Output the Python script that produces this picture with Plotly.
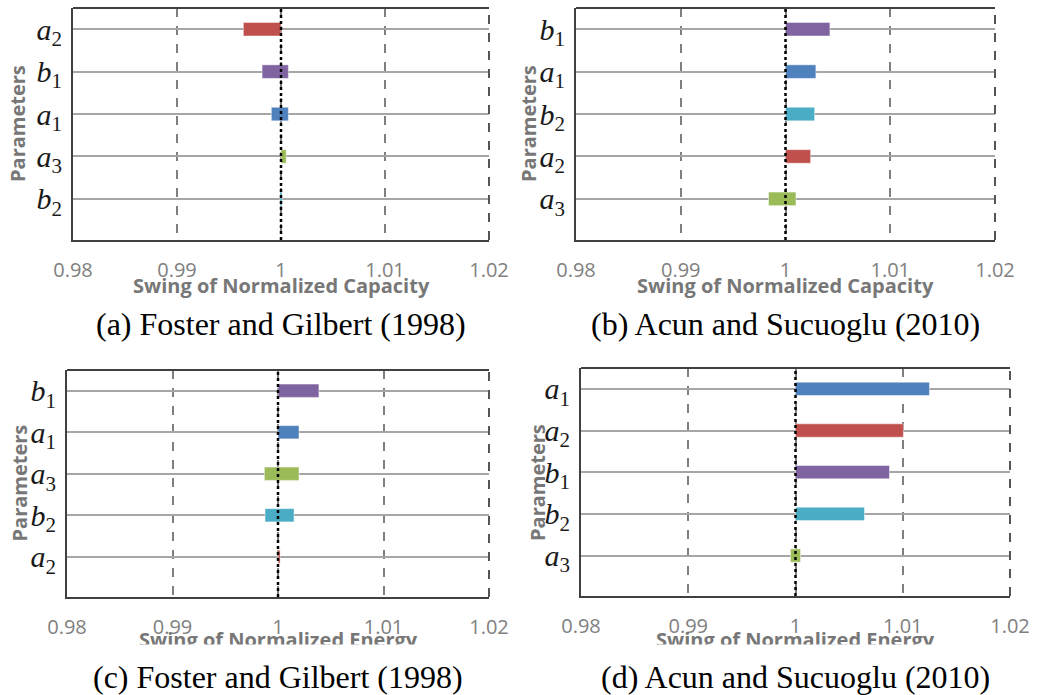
import plotly.graph_objects as go

W, H = 1038, 695

# ---- data: swing (low/high) of each parameter, listed top to bottom ----
params_a = ["a2", "b1", "a1", "a3", "b2"]
low_a = [0.99638, 0.99818, 0.99907, 1.00000, 0.99990]
high_a = [1.00000, 1.00071, 1.00071, 1.00050, 1.00010]

params_b = ["b1", "a1", "b2", "a2", "a3"]
low_b = [1.00000, 1.00000, 1.00000, 1.00000, 0.99838]
high_b = [1.00424, 1.00290, 1.00278, 1.00240, 1.00100]

params_c = ["b1", "a1", "a3", "b2", "a2"]
low_c = [1.00000, 1.00000, 0.99871, 0.99877, 1.00000]
high_c = [1.00388, 1.00199, 1.00199, 1.00152, 1.00020]

params_d = ["a1", "a2", "b1", "b2", "a3"]
low_d = [1.00000, 1.00000, 1.00000, 1.00000, 0.99953]
high_d = [1.01249, 1.01006, 1.00876, 1.00643, 1.00047]

x_ticks = [0.98, 0.99, 1.00, 1.01, 1.02]
x_tick_text = ["0.98", "0.99", "1", "1.01", "1.02"]

captions = ["(a) Foster and Gilbert (1998)", "(b) Acun and Sucuoglu (2010)",
            "(c) Foster and Gilbert (1998)", "(d) Acun and Sucuoglu (2010)"]
x_titles = ["Swing of Normalized Capacity", "Swing of Normalized Capacity",
            "Swing of Normalized Energy", "Swing of Normalized Energy"]
y_title = "Parameters"

colors = {"a1": "#4F81BD", "a2": "#C0504D", "a3": "#9BBB59",
          "b1": "#8064A2", "b2": "#4BACC6"}


def math_label(p):
    return f"<i>{p[0]}</i><sub>{p[1]}</sub>"


# ---- layout geometry (pixels) ----
panels = [
    dict(params=params_a, low=low_a, high=high_a, box=(73, 489, 8, 240), ylab_x=18,
         title_dy=45, cap_y=324, mask_top=None),
    dict(params=params_b, low=low_b, high=high_b, box=(576, 995, 8, 240), ylab_x=529,
         title_dy=45, cap_y=324, mask_top=None),
    dict(params=params_c, low=low_c, high=high_c, box=(67, 489, 370, 597), ylab_x=19,
         title_dy=42, cap_y=677, mask_top=644),
    dict(params=params_d, low=low_d, high=high_d, box=(581, 1010, 368, 596), ylab_x=538,
         title_dy=43, cap_y=677, mask_top=644),
]


def px_x(x):
    return x / W


def px_y(y):
    return 1 - y / H


fig = go.Figure()
shapes = []
annotations = []
tick_font = dict(family="Open Sans", size=20, color="#808080")
title_font = dict(family="Open Sans", size=20, color="#777777")

for i, p in enumerate(panels):
    n = "" if i == 0 else str(i + 1)
    xa, ya = "x" + n, "y" + n
    x0, x1, y0, y1 = p["box"]

    for prm, lo, hi in zip(p["params"], p["low"], p["high"]):
        fig.add_trace(go.Bar(
            orientation="h", y=[prm], x=[hi - lo], base=[lo], width=0.32,
            marker=dict(color=colors[prm], line=dict(color="rgba(255,255,255,0.45)", width=1)),
            xaxis=xa, yaxis=ya, showlegend=False,
        ))

    fig.layout["xaxis" + n] = dict(
        domain=[px_x(x0), px_x(x1)], anchor=ya, range=[0.98, 1.02], automargin=False,
        tickvals=x_ticks, ticktext=x_tick_text, tickfont=tick_font,
        ticklabelstandoff=11, ticks="",
        showgrid=True, gridcolor="#7f7f7f", gridwidth=2, griddash="dash",
        showline=True, linecolor="#404040", linewidth=2, zeroline=False,
    )
    fig.layout["yaxis" + n] = dict(
        domain=[px_y(y1), px_y(y0)], anchor=xa, automargin=False,
        type="category", categoryorder="array", categoryarray=p["params"],
        range=[4.97, -0.5],
        tickvals=p["params"], ticktext=[math_label(q) for q in p["params"]],
        tickfont=dict(family="Liberation Serif", size=30, color="#1a1a1a"),
        ticklabelstandoff=3, ticks="",
        showgrid=True, gridcolor="#a6a6a6", gridwidth=1.5,
        showline=True, linecolor="#404040", linewidth=2, zeroline=False,
    )

    # top border and dashed right border
    shapes.append(dict(type="line", xref="paper", yref="paper",
                       x0=px_x(x0), x1=px_x(x1), y0=px_y(y0), y1=px_y(y0),
                       line=dict(color="#404040", width=2), layer="above"))
    shapes.append(dict(type="line", xref="paper", yref="paper",
                       x0=px_x(x1), x1=px_x(x1), y0=px_y(y1), y1=px_y(y0),
                       line=dict(color="#555555", width=2, dash="dash"), layer="above"))
    # dotted reference line at 1
    shapes.append(dict(type="line", xref=xa, yref=ya + " domain",
                       x0=1.0, x1=1.0, y0=0, y1=1,
                       line=dict(color="black", width=2.5, dash="dot"), layer="above"))

    xc = (x0 + x1) / 2
    annotations.append(dict(text=f"<b>{x_titles[i]}</b>", xref="paper", yref="paper",
                            x=px_x(xc), y=px_y(y1 + p["title_dy"]), xanchor="center",
                            yanchor="middle", showarrow=False, font=title_font))
    annotations.append(dict(text=f"<b>{y_title}</b>", xref="paper", yref="paper",
                            x=px_x(p["ylab_x"]), y=px_y((y0 + y1) / 2), textangle=-90,
                            xanchor="center", yanchor="middle", showarrow=False, font=title_font))

# white strip that trims the lower edge of the energy-axis titles
for p in panels:
    if p["mask_top"] is None:
        continue
    x0, x1, y0, y1 = p["box"]
    annotations.append(dict(text=" ", xref="paper", yref="paper",
                            x=px_x((x0 + x1) / 2), y=px_y(p["mask_top"]),
                            xanchor="center", yanchor="top", width=480,
                            height=H - p["mask_top"] - 6, bgcolor="white",
                            showarrow=False, font=dict(size=10)))

# sub-figure captions
for i, p in enumerate(panels):
    x0, x1, y0, y1 = p["box"]
    annotations.append(dict(text=captions[i], xref="paper", yref="paper",
                            x=px_x((x0 + x1) / 2), y=px_y(p["cap_y"]),
                            xanchor="center", yanchor="middle", showarrow=False,
                            font=dict(family="Liberation Serif", size=32, color="black")))

fig.update_layout(
    width=W, height=H, margin=dict(l=0, r=0, t=0, b=0),
    paper_bgcolor="white", plot_bgcolor="white",
    barmode="overlay", shapes=shapes, annotations=annotations,
)

fig.write_html("out.html")
